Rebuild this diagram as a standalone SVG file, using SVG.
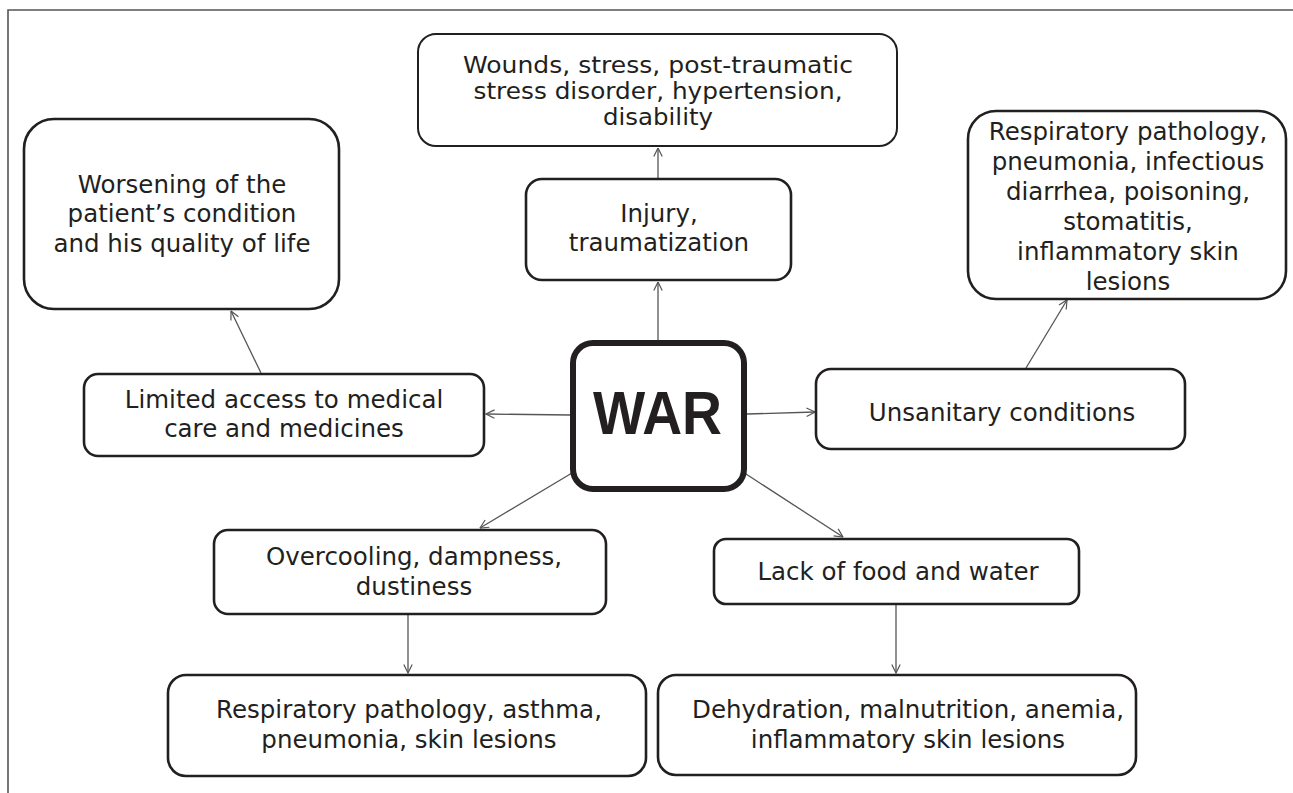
<svg xmlns="http://www.w3.org/2000/svg" width="1293" height="793" viewBox="0 0 1293 793">
<style>
.box{fill:#fff;stroke:#231f20;stroke-width:2.6}
.t{font-family:"DejaVu Sans","Liberation Sans",sans-serif;font-size:24.5px;fill:#231f20;text-anchor:middle}
.s{font-size:22.5px}
.c{stroke:#555;stroke-width:1.3;fill:none;marker-end:url(#ah)}
</style>
<defs>
<marker id="ah" viewBox="0 0 10 10" refX="9.5" refY="5" markerWidth="10" markerHeight="10" markerUnits="userSpaceOnUse" orient="auto">
<path d="M1,0.8 L9.5,5 L1,9.2" fill="none" stroke="#555" stroke-width="1.2"/>
</marker>
</defs>
<rect width="1293" height="793" fill="#fff"/>
<path d="M8,793 V10 H1293" fill="none" stroke="#555" stroke-width="1.6"/>
<g id="connectors">
<line class="c" x1="658" y1="340" x2="658" y2="282"/>
<line class="c" x1="658" y1="178" x2="658" y2="148"/>
<line class="c" x1="571" y1="415" x2="486" y2="414"/>
<line class="c" x1="261" y1="373" x2="231" y2="311"/>
<line class="c" x1="747" y1="414" x2="815" y2="412"/>
<line class="c" x1="1026" y1="368" x2="1067" y2="300"/>
<line class="c" x1="572" y1="473" x2="480" y2="528"/>
<line class="c" x1="746" y1="474" x2="843" y2="537"/>
<line class="c" x1="408" y1="615" x2="408" y2="673"/>
<line class="c" x1="896" y1="605" x2="896" y2="673"/>
</g>
<g id="worsening">
<rect class="box" x="24" y="119" width="315" height="190" rx="30"/>
<text class="t" x="182" y="193">Worsening of the</text>
<text class="t" x="182" y="222">patient’s condition</text>
<text class="t" x="182" y="252">and his quality of life</text>
</g>
<g id="wounds">
<rect class="box" x="418" y="34" width="479" height="112" rx="18" style="stroke-width:2"/>
<text class="t s" x="658" y="73" textLength="390" lengthAdjust="spacingAndGlyphs">Wounds, stress, post-traumatic</text>
<text class="t s" x="658" y="99" textLength="369" lengthAdjust="spacingAndGlyphs">stress disorder, hypertension,</text>
<text class="t s" x="658" y="125" textLength="110" lengthAdjust="spacingAndGlyphs">disability</text>
</g>
<g id="injury">
<rect class="box" x="526" y="179" width="265" height="101" rx="16"/>
<text class="t" x="659" y="222">Injury,</text>
<text class="t" x="659" y="251">traumatization</text>
</g>
<g id="resp-top">
<rect class="box" x="968" y="111" width="318" height="188" rx="28"/>
<text class="t" x="1128" y="140">Respiratory pathology,</text>
<text class="t" x="1128" y="170">pneumonia, infectious</text>
<text class="t" x="1128" y="200">diarrhea, poisoning,</text>
<text class="t" x="1128" y="230">stomatitis,</text>
<text class="t" x="1128" y="260">inflammatory skin</text>
<text class="t" x="1128" y="290">lesions</text>
</g>
<g id="limited">
<rect class="box" x="84" y="374" width="400" height="82" rx="14"/>
<text class="t" x="284" y="408">Limited access to medical</text>
<text class="t" x="284" y="437">care and medicines</text>
</g>
<g id="war">
<rect x="573" y="343" width="171" height="146" rx="20" fill="#fff" stroke="#231f20" stroke-width="6"/>
<text x="657.5" y="434" font-family="Liberation Sans, Arial, sans-serif" font-weight="bold" font-size="61" fill="#231f20" text-anchor="middle" textLength="129" lengthAdjust="spacingAndGlyphs">WAR</text>
</g>
<g id="unsanitary">
<rect class="box" x="816" y="369" width="369" height="80" rx="15"/>
<text class="t" x="1002" y="421">Unsanitary conditions</text>
</g>
<g id="overcooling">
<rect class="box" x="214" y="530" width="392" height="84" rx="14"/>
<text class="t" x="414" y="565">Overcooling, dampness,</text>
<text class="t" x="414" y="595">dustiness</text>
</g>
<g id="lack">
<rect class="box" x="714" y="539" width="365" height="65" rx="12"/>
<text class="t" x="898" y="580">Lack of food and water</text>
</g>
<g id="resp-bottom">
<rect class="box" x="168" y="675" width="478" height="101" rx="18"/>
<text class="t" x="409" y="718">Respiratory pathology, asthma,</text>
<text class="t" x="409" y="748">pneumonia, skin lesions</text>
</g>
<g id="dehydration">
<rect class="box" x="658" y="675" width="478" height="100" rx="18"/>
<text class="t" x="908" y="718">Dehydration, malnutrition, anemia,</text>
<text class="t" x="908" y="748">inflammatory skin lesions</text>
</g>
</svg>
